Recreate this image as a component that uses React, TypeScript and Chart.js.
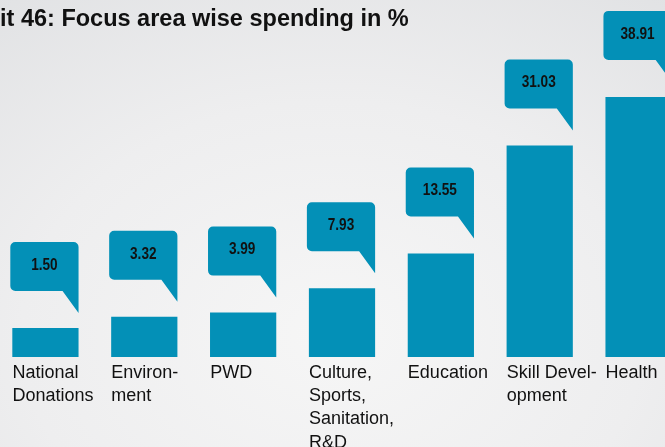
import React, { useEffect, useRef } from 'react';
import { Chart, registerables } from 'chart.js';

Chart.register(...registerables);

const titleText = 'it 46: Focus area wise spending in %';
const categories: string[][] = [
  ['National', 'Donations'],
  ['Environ-', 'ment'],
  ['PWD'],
  ['Culture,', 'Sports,', 'Sanitation,', 'R&D'],
  ['Education'],
  ['Skill Devel-', 'opment'],
  ['Health'],
];
const values = [1.5, 3.32, 3.99, 7.93, 13.55, 31.03, 38.91];
const valueLabels = ['1.50', '3.32', '3.99', '7.93', '13.55', '31.03', '38.91'];
const axisMin = -3.2;
const axisMax = 54.6;

const BAR_COLOR = '#0390b7';

const calloutPlugin = {
  id: 'callouts',
  afterDatasetsDraw(chart: any) {
    const ctx = chart.ctx as CanvasRenderingContext2D;
    const meta = chart.getDatasetMeta(0);
    meta.data.forEach((el: any, i: number) => {
      const { x, y, width } = el.getProps(['x', 'y', 'width'], true);
      const bl = x - width / 2 - 2;
      const br = x + width / 2;
      const bottom = y - 37;
      const top = bottom - 49;
      const tip = y - 15;
      const tailLeft = br - 16;
      const r = 5;
      ctx.save();
      ctx.fillStyle = BAR_COLOR;
      ctx.beginPath();
      ctx.moveTo(bl + r, top);
      ctx.lineTo(br - r, top);
      ctx.arcTo(br, top, br, top + r, r);
      ctx.lineTo(br, tip);
      ctx.lineTo(tailLeft, bottom);
      ctx.lineTo(bl + r, bottom);
      ctx.arcTo(bl, bottom, bl, bottom - r, r);
      ctx.lineTo(bl, top + r);
      ctx.arcTo(bl, top, bl + r, top, r);
      ctx.closePath();
      ctx.fill();
      ctx.translate((bl + br) / 2, (top + bottom) / 2 - 1);
      ctx.scale(0.85, 1);
      ctx.fillStyle = '#111111';
      ctx.font = 'bold 16px "Liberation Sans", Arial, sans-serif';
      ctx.textAlign = 'center';
      ctx.textBaseline = 'middle';
      ctx.fillText(valueLabels[i], 0, 0);
      ctx.restore();
    });
  },
  afterDraw(chart: any) {
    const ctx = chart.ctx as CanvasRenderingContext2D;
    ctx.save();
    ctx.fillStyle = '#111111';
    ctx.font = 'bold 23.5px "Liberation Sans", Arial, sans-serif';
    ctx.textAlign = 'left';
    ctx.textBaseline = 'alphabetic';
    ctx.fillText(titleText, 4, 26);
    ctx.restore();
  },
};

export default function App() {
  const ref = useRef<HTMLCanvasElement | null>(null);
  useEffect(() => {
    document.body.style.margin = '0';
    if (!ref.current) return;
    const chart = new Chart(ref.current, {
      type: 'bar',
      data: {
        labels: categories,
        datasets: [
          {
            data: values,
            backgroundColor: BAR_COLOR,
            borderWidth: 0,
            barPercentage: 0.67,
            categoryPercentage: 1,
            base: axisMin,
          } as any,
        ],
      },
      options: {
        responsive: false,
        animation: false,
        devicePixelRatio: 1,
        layout: { padding: 0 },
        plugins: {
          legend: { display: false },
          tooltip: { enabled: false },
          title: { display: false },
        },
        scales: {
          x: {
            offset: true,
            grid: { display: false, drawTicks: false },
            border: { display: false },
            ticks: {
              autoSkip: false,
              maxRotation: 0,
              minRotation: 0,
              align: 'start',
              labelOffset: -33,
              padding: 4,
              color: '#111111',
              font: { family: '"Liberation Sans", Arial, sans-serif', size: 18, lineHeight: 1.3 },
            },
            afterFit: (scale: any) => {
              scale.height = 90;
              scale.paddingLeft = 0;
              scale.paddingRight = 0;
            },
          },
          y: {
            display: false,
            min: axisMin,
            max: axisMax,
          },
        },
      },
      plugins: [calloutPlugin],
    });
    return () => chart.destroy();
  }, []);
  return (
    <div
      style={{
        position: 'relative',
        width: 665,
        height: 447,
        overflow: 'hidden',
        background: 'radial-gradient(ellipse 85% 95% at 50% 75%, #f6f6f6 0%, #eeeeef 55%, #e1e2e4 100%)',
      }}
    >
      <canvas ref={ref} width={692} height={447} style={{ position: 'absolute', left: -4, top: 0 }} />
    </div>
  );
}
